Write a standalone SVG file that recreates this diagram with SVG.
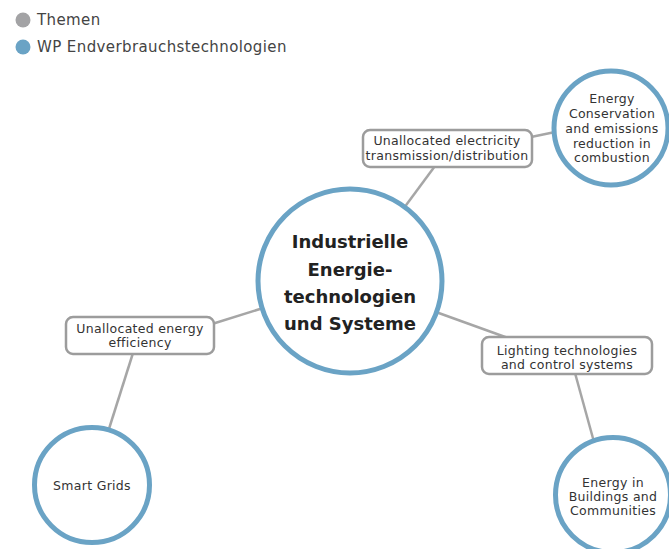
<svg xmlns="http://www.w3.org/2000/svg" width="669" height="549" viewBox="0 0 669 549">
  <style>
    text { font-family: "DejaVu Sans", "Liberation Sans", sans-serif; fill: #333; text-anchor: middle; }
    .legend { font-size: 15px; letter-spacing: 0.4px; text-anchor: start; fill: #444; }
    .small { font-size: 12.5px; letter-spacing: 0.3px; }
    .title { font-size: 18px; font-weight: bold; fill: #222; }
    .topic { fill: #fff; stroke: #6aa3c5; stroke-width: 5; }
    .box { fill: #fff; stroke: #9c9c9c; stroke-width: 2.5; }
    .edge { stroke: #a6a6a6; stroke-width: 2.5; fill: none; }
  </style>

  <g id="legend">
    <circle cx="23" cy="20" r="7.5" fill="#a3a3a5"/>
    <text class="legend" x="37" y="25">Themen</text>
    <circle cx="23" cy="47" r="7.5" fill="#6aa3c5"/>
    <text class="legend" x="37" y="52">WP Endverbrauchstechnologien</text>
  </g>

  <g id="connectors">
    <line class="edge" x1="350" y1="281" x2="435" y2="166"/>
    <line class="edge" x1="531" y1="137" x2="560" y2="131"/>
    <line class="edge" x1="350" y1="281" x2="212" y2="324"/>
    <line class="edge" x1="133" y1="353" x2="108" y2="432"/>
    <line class="edge" x1="350" y1="281" x2="508" y2="338"/>
    <line class="edge" x1="575" y1="373" x2="594" y2="442"/>
  </g>

  <g id="central">
    <circle class="topic" cx="350" cy="281" r="92"/>
    <text class="title" x="350" y="248">Industrielle</text>
    <text class="title" x="350" y="276">Energie-</text>
    <text class="title" x="350" y="303">technologien</text>
    <text class="title" x="350" y="330">und Systeme</text>
  </g>

  <g id="electricity-transmission">
    <rect class="box" x="363" y="130" width="169" height="37" rx="7"/>
    <text class="small" x="447" y="145">Unallocated electricity</text>
    <text class="small" x="447" y="160">transmission/distribution</text>
  </g>

  <g id="energy-conservation">
    <circle class="topic" cx="611" cy="128" r="57"/>
    <text class="small" x="612" y="103">Energy</text>
    <text class="small" x="612" y="118">Conservation</text>
    <text class="small" x="612" y="133">and emissions</text>
    <text class="small" x="612" y="148">reduction in</text>
    <text class="small" x="612" y="162">combustion</text>
  </g>

  <g id="energy-efficiency">
    <rect class="box" x="66" y="317" width="148" height="37" rx="7"/>
    <text class="small" x="140" y="333">Unallocated energy</text>
    <text class="small" x="140" y="347">efficiency</text>
  </g>

  <g id="smart-grids">
    <circle class="topic" cx="92" cy="485" r="57.5"/>
    <text class="small" x="92" y="490">Smart Grids</text>
  </g>

  <g id="lighting">
    <rect class="box" x="482" y="337" width="170" height="37" rx="7"/>
    <text class="small" x="567" y="355">Lighting technologies</text>
    <text class="small" x="567" y="369">and control systems</text>
  </g>

  <g id="buildings">
    <circle class="topic" cx="613" cy="495" r="57.5"/>
    <text class="small" x="613" y="487">Energy in</text>
    <text class="small" x="613" y="501">Buildings and</text>
    <text class="small" x="613" y="515">Communities</text>
  </g>
</svg>
